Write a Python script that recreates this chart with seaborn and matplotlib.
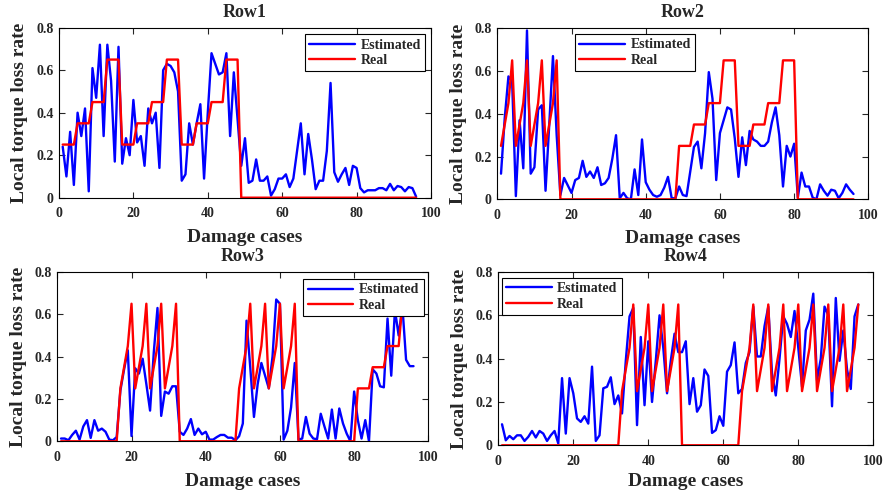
import matplotlib
matplotlib.use("Agg")
import matplotlib.pyplot as plt
import seaborn as sns

cases = list(range(1, 97))

row1_est = [0.24, 0.10, 0.31, 0.06, 0.40, 0.29, 0.42, 0.03, 0.61, 0.47, 0.72, 0.29, 0.72, 0.55, 0.17, 0.71,
            0.16, 0.28, 0.20, 0.46, 0.26, 0.29, 0.15, 0.42, 0.35, 0.40, 0.14, 0.60, 0.63, 0.62, 0.59, 0.50,
            0.08, 0.11, 0.35, 0.25, 0.35, 0.44, 0.09, 0.40, 0.68, 0.63, 0.58, 0.59, 0.68, 0.29, 0.59, 0.37,
            0.15, 0.28, 0.07, 0.08, 0.18, 0.08, 0.08, 0.10, 0.01, 0.04, 0.09, 0.09, 0.11, 0.05, 0.09, 0.22,
            0.35, 0.11, 0.30, 0.18, 0.04, 0.08, 0.08, 0.22, 0.54, 0.12, 0.075, 0.11, 0.14, 0.06, 0.15, 0.14,
            0.045, 0.025, 0.035, 0.035, 0.035, 0.045, 0.045, 0.035, 0.065, 0.035, 0.055, 0.05, 0.03, 0.05, 0.045, 0.005]
row1_real = [0.25, 0.25, 0.25, 0.25, 0.35, 0.35, 0.35, 0.35, 0.45, 0.45, 0.45, 0.45, 0.65, 0.65, 0.65, 0.65,
             0.25, 0.25, 0.25, 0.25, 0.35, 0.35, 0.35, 0.35, 0.45, 0.45, 0.45, 0.45, 0.65, 0.65, 0.65, 0.65,
             0.25, 0.25, 0.25, 0.25, 0.35, 0.35, 0.35, 0.35, 0.45, 0.45, 0.45, 0.45, 0.65, 0.65, 0.65, 0.65,
             0, 0, 0, 0, 0, 0, 0, 0, 0, 0, 0, 0, 0, 0, 0, 0,
             0, 0, 0, 0, 0, 0, 0, 0, 0, 0, 0, 0, 0, 0, 0, 0,
             0, 0, 0, 0, 0, 0, 0, 0, 0, 0, 0, 0, 0, 0, 0, 0]

row2_est = [0.12, 0.38, 0.575, 0.55, 0.015, 0.37, 0.145, 0.79, 0.12, 0.15, 0.42, 0.44, 0.04, 0.35, 0.67, 0.30,
            0.02, 0.10, 0.065, 0.03, 0.09, 0.10, 0.18, 0.105, 0.13, 0.10, 0.15, 0.067, 0.075, 0.10, 0.19, 0.30,
            0.005, 0.03, 0.005, 0.0, 0.14, 0.02, 0.28, 0.08, 0.045, 0.02, 0.012, 0.02, 0.055, 0.105, 0.005, 0.005,
            0.06, 0.02, 0.015, 0.13, 0.245, 0.27, 0.145, 0.31, 0.595, 0.47, 0.09, 0.31, 0.37, 0.43, 0.42, 0.285,
            0.105, 0.29, 0.16, 0.32, 0.28, 0.27, 0.25, 0.25, 0.27, 0.36, 0.43, 0.30, 0.06, 0.25, 0.20, 0.26,
            0.008, 0.125, 0.06, 0.06, 0.008, 0.0, 0.07, 0.04, 0.017, 0.045, 0.04, 0.005, 0.03, 0.07, 0.045, 0.025]
row2_real = [0.25, 0.35, 0.45, 0.65, 0.25, 0.35, 0.45, 0.65, 0.25, 0.35, 0.45, 0.65, 0.25, 0.35, 0.45, 0.65,
             0, 0, 0, 0, 0, 0, 0, 0, 0, 0, 0, 0, 0, 0, 0, 0,
             0, 0, 0, 0, 0, 0, 0, 0, 0, 0, 0, 0, 0, 0, 0, 0,
             0.25, 0.25, 0.25, 0.25, 0.35, 0.35, 0.35, 0.35, 0.45, 0.45, 0.45, 0.45, 0.65, 0.65, 0.65, 0.65,
             0.25, 0.25, 0.25, 0.25, 0.35, 0.35, 0.35, 0.35, 0.45, 0.45, 0.45, 0.45, 0.65, 0.65, 0.65, 0.65,
             0, 0, 0, 0, 0, 0, 0, 0, 0, 0, 0, 0, 0, 0, 0, 0]

row3_est = [0.013, 0.013, 0.005, 0.03, 0.05, 0.008, 0.07, 0.10, 0.016, 0.10, 0.05, 0.06, 0.045, 0.008, 0.005, 0.02,
            0.24, 0.34, 0.43, 0.025, 0.345, 0.32, 0.39, 0.27, 0.145, 0.42, 0.63, 0.12, 0.235, 0.225, 0.26, 0.26,
            0.045, 0.03, 0.06, 0.105, 0.03, 0.06, 0.033, 0.045, 0.008, 0.008, 0.02, 0.03, 0.03, 0.017, 0.017, 0.005,
            0.024, 0.084, 0.57, 0.35, 0.115, 0.27, 0.37, 0.31, 0.25, 0.40, 0.67, 0.65, 0.008, 0.05, 0.16, 0.37,
            0.008, 0.013, 0.115, 0.036, 0.013, 0.01, 0.13, 0.07, 0.013, 0.15, 0.013, 0.155, 0.084, 0.036, 0.0, 0.235,
            0.10, 0.013, 0.10, 0.0, 0.34, 0.32, 0.26, 0.255, 0.58, 0.31, 0.62, 0.50, 0.64, 0.385, 0.355, 0.355]
row3_real = [0, 0, 0, 0, 0, 0, 0, 0, 0, 0, 0, 0, 0, 0, 0, 0,
             0.25, 0.35, 0.45, 0.65, 0.25, 0.35, 0.45, 0.65, 0.25, 0.35, 0.45, 0.65, 0.25, 0.35, 0.45, 0.65,
             0, 0, 0, 0, 0, 0, 0, 0, 0, 0, 0, 0, 0, 0, 0, 0,
             0.25, 0.35, 0.45, 0.65, 0.25, 0.35, 0.45, 0.65, 0.25, 0.35, 0.45, 0.65, 0.25, 0.35, 0.45, 0.65,
             0, 0, 0, 0, 0, 0, 0, 0, 0, 0, 0, 0, 0, 0, 0, 0,
             0.25, 0.25, 0.25, 0.25, 0.35, 0.35, 0.35, 0.35, 0.45, 0.45, 0.45, 0.45, 0.65, 0.65, 0.65, 0.65]

row4_est = [0.097, 0.023, 0.043, 0.028, 0.046, 0.046, 0.02, 0.039, 0.066, 0.036, 0.066, 0.054, 0.02, 0.046, 0.066, 0.008,
            0.31, 0.054, 0.31, 0.24, 0.124, 0.108, 0.134, 0.10, 0.363, 0.02, 0.046, 0.263, 0.27, 0.314, 0.19, 0.23,
            0.147, 0.39, 0.595, 0.634, 0.093, 0.50, 0.185, 0.48, 0.20, 0.39, 0.60, 0.45, 0.24, 0.39, 0.515, 0.43,
            0.43, 0.48, 0.19, 0.31, 0.155, 0.185, 0.35, 0.32, 0.057, 0.07, 0.134, 0.09, 0.34, 0.37, 0.475, 0.24,
            0.26, 0.38, 0.43, 0.64, 0.41, 0.41, 0.55, 0.64, 0.33, 0.23, 0.40, 0.595, 0.56, 0.50, 0.62, 0.45,
            0.27, 0.53, 0.58, 0.70, 0.30, 0.40, 0.64, 0.60, 0.18, 0.68, 0.39, 0.53, 0.35, 0.26, 0.595, 0.65]
row4_real = [0, 0, 0, 0, 0, 0, 0, 0, 0, 0, 0, 0, 0, 0, 0, 0,
             0, 0, 0, 0, 0, 0, 0, 0, 0, 0, 0, 0, 0, 0, 0, 0,
             0.25, 0.35, 0.45, 0.65, 0.25, 0.35, 0.45, 0.65, 0.25, 0.35, 0.45, 0.65, 0.25, 0.35, 0.45, 0.65,
             0, 0, 0, 0, 0, 0, 0, 0, 0, 0, 0, 0, 0, 0, 0, 0,
             0.25, 0.35, 0.45, 0.65, 0.25, 0.35, 0.45, 0.65, 0.25, 0.35, 0.45, 0.65, 0.25, 0.35, 0.45, 0.65,
             0.25, 0.35, 0.45, 0.65, 0.25, 0.35, 0.45, 0.65, 0.25, 0.35, 0.45, 0.65, 0.25, 0.35, 0.45, 0.65]

titles = ["Row1", "Row2", "Row3", "Row4"]
x_ticks = [0, 20, 40, 60, 80, 100]
y_ticks = [0, 0.2, 0.4, 0.6, 0.8]
y_tick_labels = ["0", "0.2", "0.4", "0.6", "0.8"]

sns.set_style("ticks")
plt.rcParams['font.family'] = ['Liberation Serif', 'DejaVu Serif']
plt.rcParams['font.weight'] = 'bold'
plt.rcParams['axes.labelweight'] = 'bold'
plt.rcParams['axes.titleweight'] = 'bold'
plt.rcParams['xtick.direction'] = 'in'
plt.rcParams['ytick.direction'] = 'in'
plt.rcParams['xtick.top'] = True
plt.rcParams['ytick.right'] = True

fig = plt.figure(figsize=(8.83, 4.93), dpi=100)

positions = [
    [0.0668, 0.599, 0.4213, 0.3448],
    [0.5632, 0.5957, 0.4202, 0.3469],
    [0.0649, 0.1049, 0.4202, 0.3434],
    [0.5643, 0.0968, 0.4247, 0.3515],
]
legend_spots = [
    ("upper right", (0.984, 0.961)),
    ("upper left", (0.209, 0.965)),
    ("upper right", (0.987, 0.957)),
    ("upper left", (0.009, 0.967)),
]
xlabel_pads = [6.5, 5.5, 6.5, 3.5]
series = [(row1_est, row1_real), (row2_est, row2_real), (row3_est, row3_real), (row4_est, row4_real)]

for i in range(4):
    ax = fig.add_axes(positions[i])
    est, real = series[i]
    sns.lineplot(x=cases, y=est, color=(0, 0, 1), linewidth=1.7, label="Estimated", ax=ax)
    sns.lineplot(x=cases, y=real, color=(1, 0, 0), linewidth=1.7, label="Real", ax=ax)
    ax.set_xlim(0, 100)
    ax.set_ylim(0, 0.8)
    ax.set_xticks(x_ticks)
    ax.set_yticks(y_ticks)
    ax.set_yticklabels(y_tick_labels)
    ax.tick_params(labelsize=10, length=4, width=0.8)
    ax.tick_params(axis="x", pad=7)
    ax.tick_params(axis="y", pad=4)
    for sp in ax.spines.values():
        sp.set_linewidth(0.8)
        sp.set_color("black")
    ax.set_title(titles[i], fontsize=13, pad=8)
    ax.set_xlabel("Damage cases", fontsize=14, labelpad=xlabel_pads[i])
    ax.set_ylabel("Local torque loss rate", fontsize=14)
    ax.yaxis.set_label_coords(-0.082, 0.5)
    loc, anchor = legend_spots[i]
    leg = ax.legend(loc=loc, bbox_to_anchor=anchor, borderaxespad=0, fontsize=10,
                    frameon=True, fancybox=False, edgecolor="black", framealpha=1,
                    handlelength=3.3, handletextpad=0.4, labelspacing=0.2, borderpad=0.3)
    leg.get_frame().set_linewidth(0.8)

fig.savefig("out.png", dpi=100)
